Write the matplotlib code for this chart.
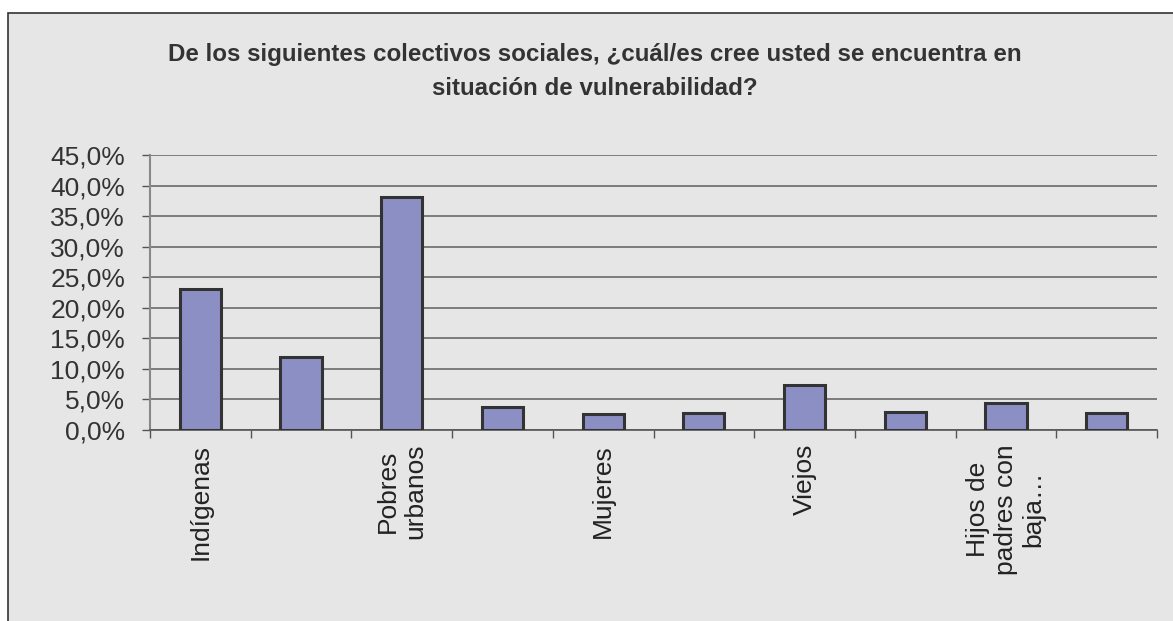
import matplotlib
matplotlib.use('Agg')
import matplotlib.pyplot as plt
from matplotlib.patches import Rectangle
from matplotlib.ticker import FuncFormatter, FixedLocator

plt.rcParams['font.family'] = ['Liberation Sans', 'DejaVu Sans']

# data
title = 'De los siguientes colectivos sociales, ¿cuál/es cree usted se encuentra en\nsituación de vulnerabilidad?'
labels = ['Indígenas', '', 'Pobres\nurbanos', '', 'Mujeres', '', 'Viejos', '', 'Hijos de\npadres con\nbaja…', '']
values = [23.0, 12.0, 38.1, 3.8, 2.7, 2.8, 7.4, 2.9, 4.5, 2.8]
yticks = [0, 5, 10, 15, 20, 25, 30, 35, 40, 45]

W, H = 1173, 621
fig = plt.figure(figsize=(W / 100, H / 100), dpi=100, facecolor='white')

# chart frame (only left and top edges visible)
x0 = 7.5 / W
y1 = 1 - 12.5 / H
frame = Rectangle((x0, -0.1), 1.2, y1 + 0.1, transform=fig.transFigure,
                  facecolor='#e6e6e6', edgecolor='#333333', linewidth=1.2, zorder=-5)
fig.add_artist(frame)

ax = fig.add_axes([150 / W, 1 - 430 / H, (1157 - 150) / W, (430 - 155) / H])
ax.set_facecolor('none')
ax.set_zorder(2)

x = list(range(len(values)))
ax.bar(x, values, width=0.41, color='#8b8fc4', edgecolor='#333333', linewidth=2.2, zorder=3)

ax.set_xlim(-0.5, len(values) - 0.5)
ax.set_ylim(0, 45)
ax.set_yticks(yticks)
ax.yaxis.set_major_formatter(FuncFormatter(lambda v, p: ('%.1f%%' % v).replace('.', ',')))
ax.yaxis.grid(True, color='#6a6a6a', linewidth=1.2, zorder=1)
ax.set_axisbelow(True)

ax.xaxis.set_major_locator(FixedLocator([i - 0.5 for i in range(len(values) + 1)]))
ax.xaxis.set_minor_locator(FixedLocator(x))
ax.set_xticklabels([])
ax.set_xticklabels(labels, minor=True, rotation=90, ha='center', va='top',
                   multialignment='center', fontsize=19, color='#222222', linespacing=1.2)
ax.tick_params(axis='x', which='major', length=6, width=1, color='#555555')
ax.tick_params(axis='x', which='minor', length=0, pad=10)
ax.tick_params(axis='y', length=6, width=1, color='#555555', pad=12, labelsize=19, labelcolor='#333333')

for s in ['top', 'right']:
    ax.spines[s].set_visible(False)
ax.spines['left'].set_color('#888888')
ax.spines['left'].set_linewidth(1.5)
ax.spines['bottom'].set_color('#555555')
ax.spines['bottom'].set_linewidth(1.2)

fig.text(595 / W, 1 - 43 / H, title, ha='center', va='top', fontsize=17.4, fontweight='bold',
         color='#333333', linespacing=1.6)

fig.savefig('out.png', dpi=100, facecolor='white')
